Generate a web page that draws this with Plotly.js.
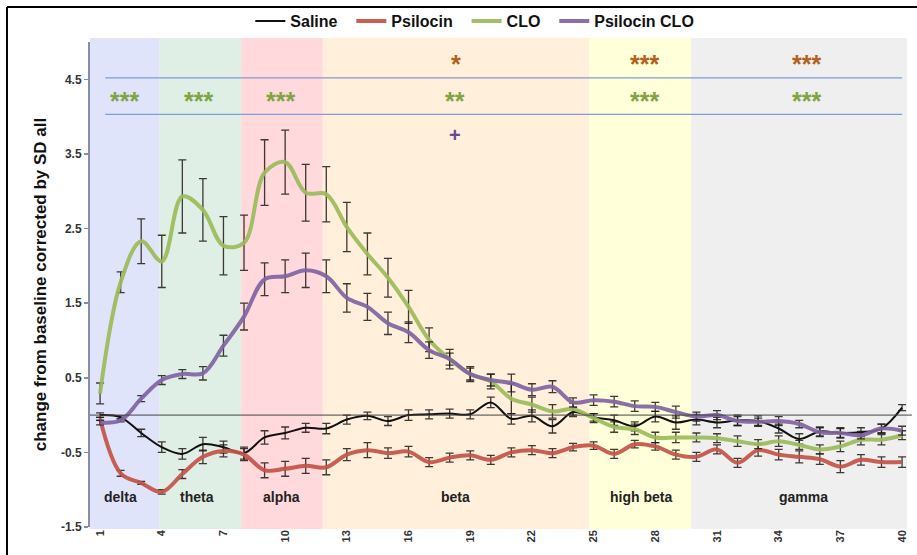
<!DOCTYPE html>
<html>
<head>
<meta charset="utf-8">
<script src="https://cdn.plot.ly/plotly-3.0.1.min.js"></script>
<style>html,body{margin:0;padding:0;background:#fff;}#chart{width:917px;height:555px;}</style>
</head>
<body>
<div id="chart"></div>
<script>
// ---- data ----
var bins = [1,2,3,4,5,6,7,8,9,10,11,12,13,14,15,16,17,18,19,20,21,22,23,24,25,26,27,28,29,30,31,32,33,34,35,36,37,38,39,40];
var xTicks = [1,4,7,10,13,16,19,22,25,28,31,34,37,40];
var yTicks = [-1.5,-0.5,0.5,1.5,2.5,3.5,4.5];
var seriesNames = ["Saline","Psilocin","CLO","Psilocin CLO"];

var saline = [0.00,-0.03,-0.24,-0.43,-0.52,-0.39,-0.43,-0.51,-0.30,-0.24,-0.17,-0.18,-0.06,-0.01,-0.08,0.00,0.01,0.02,0.01,0.17,-0.05,-0.01,-0.15,0.04,-0.03,-0.07,-0.15,-0.02,-0.10,-0.06,-0.10,-0.07,-0.08,-0.18,-0.32,-0.22,-0.24,-0.23,-0.18,0.10];
var salineErr = [0.03,0.02,0.05,0.07,0.07,0.09,0.08,0.08,0.09,0.08,0.06,0.07,0.06,0.05,0.06,0.07,0.06,0.06,0.06,0.07,0.07,0.08,0.09,0.06,0.05,0.07,0.06,0.07,0.09,0.07,0.07,0.07,0.07,0.06,0.07,0.06,0.07,0.06,0.06,0.04];

var psilocin = [-0.05,-0.78,-0.91,-1.03,-0.79,-0.56,-0.48,-0.53,-0.74,-0.72,-0.68,-0.70,-0.53,-0.47,-0.51,-0.49,-0.63,-0.57,-0.54,-0.60,-0.50,-0.47,-0.51,-0.43,-0.41,-0.52,-0.39,-0.42,-0.53,-0.56,-0.46,-0.64,-0.47,-0.53,-0.56,-0.59,-0.69,-0.60,-0.63,-0.63];
var psilocinErr = [0.02,0.04,0.02,0.03,0.06,0.09,0.08,0.08,0.10,0.10,0.10,0.10,0.08,0.10,0.07,0.07,0.06,0.06,0.06,0.06,0.06,0.06,0.06,0.05,0.05,0.06,0.05,0.05,0.06,0.06,0.06,0.06,0.08,0.07,0.08,0.07,0.08,0.07,0.07,0.07];

var clo = [0.29,1.78,2.33,2.06,2.93,2.75,2.27,2.31,3.25,3.39,2.98,2.96,2.52,2.16,1.84,1.45,1.01,0.75,0.55,0.45,0.22,0.14,0.05,0.08,-0.04,-0.16,-0.19,-0.30,-0.30,-0.30,-0.31,-0.35,-0.39,-0.35,-0.40,-0.46,-0.42,-0.33,-0.33,-0.27];
var cloErr = [0.14,0.14,0.30,0.35,0.49,0.42,0.39,0.37,0.44,0.43,0.38,0.37,0.33,0.28,0.26,0.22,0.16,0.08,0.08,0.10,0.20,0.10,0.09,0.08,0.06,0.07,0.07,0.07,0.07,0.06,0.06,0.07,0.06,0.07,0.06,0.06,0.07,0.07,0.07,0.06];

var psiloClo = [-0.10,-0.07,0.22,0.47,0.55,0.56,0.93,1.32,1.82,1.86,1.94,1.86,1.57,1.45,1.23,1.11,0.87,0.75,0.55,0.47,0.43,0.34,0.38,0.17,0.20,0.18,0.12,0.11,0.04,-0.02,0.00,-0.08,-0.09,-0.08,-0.12,-0.23,-0.24,-0.27,-0.18,-0.21];
var psiloCloErr = [0.03,0.02,0.04,0.06,0.06,0.09,0.14,0.18,0.22,0.22,0.23,0.22,0.19,0.18,0.15,0.14,0.11,0.13,0.10,0.08,0.12,0.08,0.08,0.06,0.07,0.07,0.07,0.06,0.08,0.06,0.06,0.06,0.05,0.06,0.05,0.06,0.06,0.05,0.06,0.06];

// frequency bands
var bandNames = ["delta","theta","alpha","beta","high beta","gamma"];
var bandEdges = [0.51,3.87,7.86,11.83,24.80,29.74,40.24];
var bandLabelX = [2.0,5.7,9.8,18.3,27.3,35.2];
var bandColors = ["#e0e4fb","#e0efe6","#ffd9dc","#ffefdb","#ffffd9","#efefef"];

// significance markers
var sigCloText = ["***","***","***","**","***","***"];
var sigCloX = [2.17,5.77,9.75,18.27,27.46,35.34];
var sigPsiText = ["*","***","***"];
var sigPsiX = [18.3,27.46,35.34];
var sigPlusX = [18.27];

// ---- styles ----
var colors = ["#111111","rgba(196,82,72,0.92)","rgba(155,187,89,0.92)","rgba(128,100,162,0.92)"];
var widths = [2,4,4,4];
var ys = [saline,psilocin,clo,psiloClo];
var errs = [salineErr,psilocinErr,cloErr,psiloCloErr];
var pad = "\u00a0\u00a0";

var traces = ys.map(function(y,i){
  return {
    type:"scatter", mode:"lines", x:bins, y:y, name:seriesNames[i] + (i<3 ? pad : ""),
    line:{color:colors[i], width:widths[i], shape:"spline", smoothing:1},
    error_y:{type:"data", array:errs[i], visible:true, color:"rgba(30,25,20,0.85)", thickness:1.3, width:4}
  };
});

var shapes = [];
for (var b=0;b<bandNames.length;b++){
  shapes.push({type:"rect", xref:"x", yref:"paper", x0:bandEdges[b], x1:bandEdges[b+1], y0:-0.004, y1:1.008,
    fillcolor:bandColors[b], line:{width:0}, layer:"below"});
}
shapes.push({type:"line", xref:"paper", yref:"y", x0:0, x1:1.006, y0:0, y1:0, line:{color:"#444", width:1}});
shapes.push({type:"line", xref:"x", yref:"y", x0:1.25, x1:40, y0:4.52, y1:4.52, line:{color:"#7a9ed6", width:1.3}});
shapes.push({type:"line", xref:"x", yref:"y", x0:1.25, x1:40, y0:4.03, y1:4.03, line:{color:"#7a9ed6", width:1.3}});
// outer frame (top and left visible)
shapes.push({type:"line", xref:"paper", yref:"paper", x0:-0.1016, x1:1.2, y0:1.0722, y1:1.0722, line:{color:"#000", width:2}});
shapes.push({type:"line", xref:"paper", yref:"paper", x0:-0.1016, x1:-0.1016, y0:1.0722, y1:-0.2, line:{color:"#000", width:2}});

var annotations = [];
bandNames.forEach(function(t,i){
  annotations.push({x:bandLabelX[i], y:-1.1, xref:"x", yref:"y", text:t, showarrow:false,
    font:{family:"Arial, Liberation Sans, sans-serif", size:14, color:"#222", weight:"bold"}});
});
sigCloText.forEach(function(t,i){
  annotations.push({x:sigCloX[i], y:4.25, xref:"x", yref:"y", text:t, showarrow:false, yshift:-3,
    font:{family:"Arial, Liberation Sans, sans-serif", size:25, color:"#7fa443", weight:"bold"}});
});
sigPsiText.forEach(function(t,i){
  annotations.push({x:sigPsiX[i], y:4.75, xref:"x", yref:"y", text:t, showarrow:false, yshift:-3,
    font:{family:"Arial, Liberation Sans, sans-serif", size:25, color:"#b45f1c", weight:"bold"}});
});
sigPlusX.forEach(function(xv){
  annotations.push({x:xv, y:3.76, xref:"x", yref:"y", text:"+", showarrow:false,
    font:{family:"Arial, Liberation Sans, sans-serif", size:20, color:"#6a4a93", weight:"bold"}});
});

var layout = {
  width:917, height:555,
  margin:{l:90, r:10, t:42, b:28, pad:0, autoexpand:false},
  paper_bgcolor:"#fff", plot_bgcolor:"rgba(0,0,0,0)",
  font:{family:"Arial, Liberation Sans, sans-serif", color:"#222"},
  showlegend:true,
  legend:{orientation:"h", x:0.471, xanchor:"center", y:1.043, yanchor:"middle",
    font:{size:16, color:"#111", weight:"bold"}, bgcolor:"rgba(0,0,0,0)", itemwidth:30, tracegroupgap:0},
  xaxis:{range:[0.51,40.24], tickmode:"array", tickvals:xTicks, ticktext:xTicks.map(String), tickangle:-90,
    showgrid:false, zeroline:false, showline:false, ticks:"",
    tickfont:{size:11, color:"#333", weight:"bold"}},
  yaxis:{range:[-1.5,5.0], tickmode:"array", tickvals:yTicks, ticktext:yTicks.map(function(v){return v.toFixed(1);}),
    showgrid:false, zeroline:false, showline:true, linecolor:"#878ea2", linewidth:2,
    ticks:"outside", ticklen:4, tickcolor:"#878ea2", tickwidth:1.5,
    tickfont:{size:12, color:"#333", weight:"bold"},
    title:{text:"change from baseline corrected by SD all", standoff:10,
      font:{size:17, color:"#111", weight:"bold"}}},
  shapes:shapes,
  annotations:annotations
};

Plotly.newPlot("chart", traces, layout, {displayModeBar:false, staticPlot:true});
</script>
</body>
</html>
